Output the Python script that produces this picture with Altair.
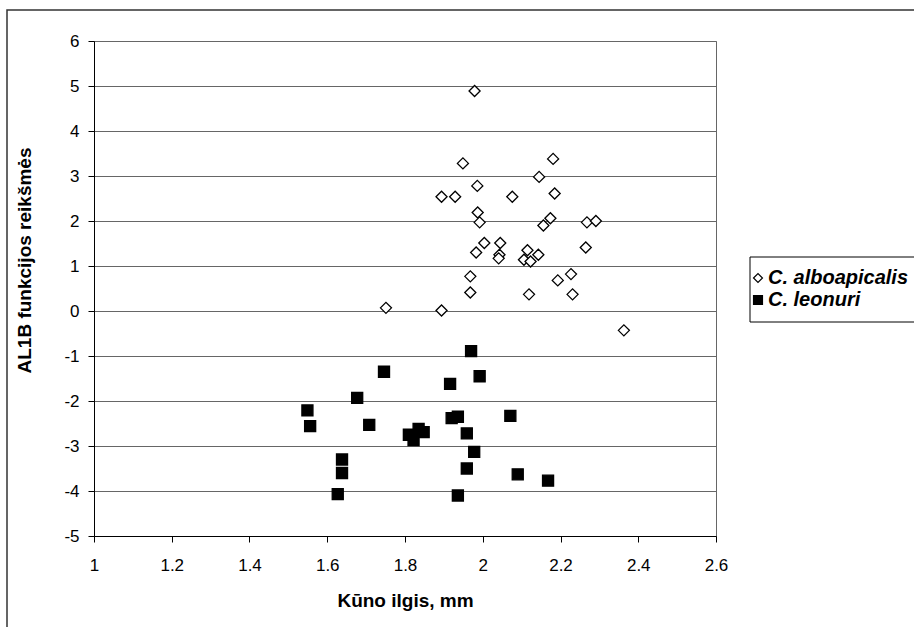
import altair as alt
import pandas as pd

species = ["C. alboapicalis", "C. leonuri"]

alb_x = [1.979, 1.949, 2.181, 2.145, 1.986, 1.894, 1.929, 2.076, 2.185, 1.987,
         1.992, 2.174, 2.156, 2.268, 2.291, 2.004, 1.983, 2.045, 2.043, 2.041,
         2.115, 2.143, 2.106, 2.123, 2.265, 1.968, 1.968, 2.119, 2.193, 2.227,
         2.231, 1.751, 1.894, 2.363]
alb_y = [4.89, 3.28, 3.38, 2.98, 2.78, 2.54, 2.54, 2.54, 2.61, 2.19,
         1.97, 2.06, 1.90, 1.97, 2.00, 1.51, 1.30, 1.51, 1.25, 1.17,
         1.35, 1.25, 1.14, 1.10, 1.41, 0.77, 0.41, 0.37, 0.68, 0.82,
         0.37, 0.07, 0.01, -0.43]

leo_x = [1.970, 1.746, 1.992, 1.916, 1.677, 1.549, 1.556, 1.708, 1.810, 1.835,
         1.848, 1.822, 1.920, 1.936, 1.959, 2.071, 1.978, 1.638, 1.638, 1.627,
         1.936, 1.959, 2.090, 2.168]
leo_y = [-0.89, -1.35, -1.45, -1.62, -1.93, -2.21, -2.56, -2.53, -2.75, -2.62,
         -2.69, -2.87, -2.38, -2.35, -2.72, -2.33, -3.13, -3.30, -3.60, -4.07,
         -4.10, -3.50, -3.63, -3.77]

x_ticks = [1, 1.2, 1.4, 1.6, 1.8, 2, 2.2, 2.4, 2.6]
y_ticks = [-5, -4, -3, -2, -1, 0, 1, 2, 3, 4, 5, 6]

df = pd.DataFrame({
    "x": alb_x + leo_x,
    "y": alb_y + leo_y,
    "sp": [species[0]] * len(alb_x) + [species[1]] * len(leo_x),
})

FONT = "Liberation Sans"
W, H = 622, 495
PL, PT = 94, 41

legend = alt.Legend(title=None, orient="none", legendX=654, legendY=227,
                    labelFont=FONT, labelFontSize=20, labelFontWeight="bold",
                    labelFontStyle="italic", labelColor="black",
                    symbolSize=80, symbolStrokeWidth=1.2,
                    labelOffset=0, rowPadding=2, padding=0, zindex=2)

points = alt.Chart(df).mark_point(filled=True, opacity=1,
                                  strokeWidth=1.3, size=122).encode(
    x=alt.X("x:Q", scale=alt.Scale(domain=[1, 2.6], nice=False, zero=False),
            axis=alt.Axis(values=x_ticks, labelExpr="'' + datum.value", grid=False,
                          labelFlush=False, title="Kūno ilgis, mm",
                          labelPadding=15, titleY=55, titleBaseline="top")),
    y=alt.Y("y:Q", scale=alt.Scale(domain=[-5, 6], nice=False, zero=False),
            axis=alt.Axis(values=y_ticks, labelExpr="'' + datum.value", grid=True,
                          labelFlush=False, title="AL1B funkcijos reikšmės",
                          labelPadding=9, titleX=-60, titleY=219, titleAngle=-90,
                          titleAlign="center", titleBaseline="bottom")),
    shape=alt.Shape("sp:N", scale=alt.Scale(domain=species, range=["diamond", "square"]),
                    legend=legend),
    fill=alt.Fill("sp:N", scale=alt.Scale(domain=species, range=["white", "black"]),
                  legend=legend),
    stroke=alt.Stroke("sp:N", scale=alt.Scale(domain=species, range=["black", "black"]),
                      legend=legend),
)

frame = alt.Chart(alt.Data(values=[{"a": 1}])).mark_rect(
    fill=None, stroke="#333333", strokeWidth=1.5
).encode(
    x=alt.value(7 - PL), x2=alt.value(1000), y=alt.value(10 - PT), y2=alt.value(1000)
)

legend_box = alt.Chart(alt.Data(values=[{"a": 1}])).mark_rect(
    fill=None, stroke="black", strokeWidth=1
).encode(
    x=alt.value(750 - PL), x2=alt.value(1000), y=alt.value(257 - PT), y2=alt.value(322 - PT)
)

chart = alt.layer(frame, legend_box, points).properties(
    width=W, height=H,
    autosize=alt.AutoSizeParams(type="none"),
    padding={"left": PL, "top": PT, "right": 914 - PL - W, "bottom": 627 - PT - H},
    background="white",
).configure_view(
    stroke="#666666", strokeWidth=1
).configure_axis(
    labelFont=FONT, labelFontSize=17, labelColor="black",
    titleFont=FONT, titleFontSize=19, titleFontWeight="bold", titleColor="black",
    domainColor="black", domainWidth=1, tickColor="black", tickSize=6, tickWidth=1,
    gridColor="#666666", gridWidth=1,
)

chart.save("out.html", embed_options={"renderer": "svg", "actions": False})
